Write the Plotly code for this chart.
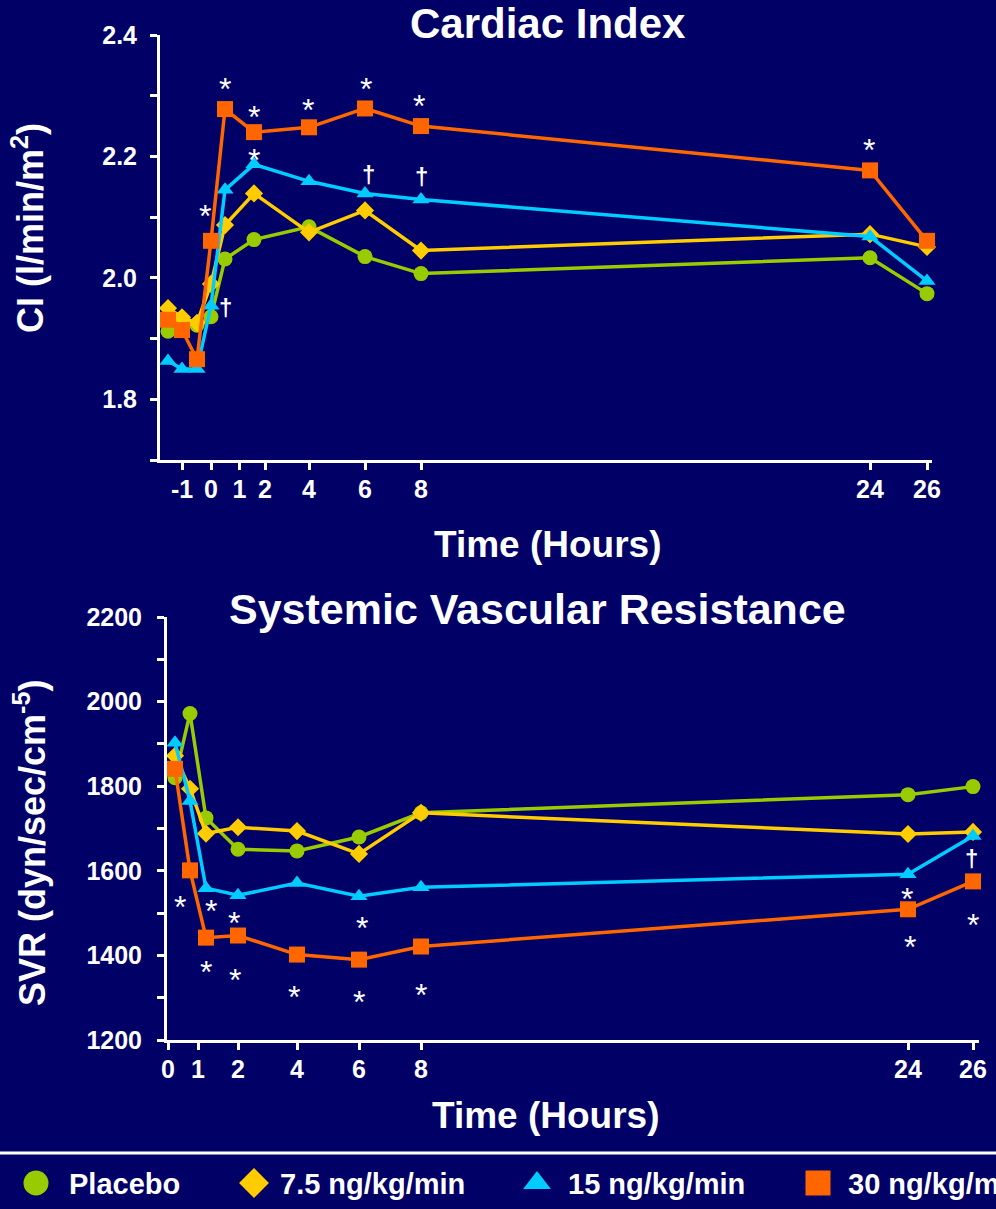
import numpy as np
import plotly.graph_objects as go

# ---------------- data ----------------
series_names = ["Placebo", "7.5 ng/kg/min", "15 ng/kg/min", "30 ng/kg/min"]

ci_hours = [-1.5, -1, -0.5, 0, 0.5, 1.5, 4, 6, 8, 24, 26]
ci_placebo = [1.912, 1.928, 1.922, 1.936, 2.031, 2.063, 2.084, 2.035, 2.007, 2.033, 1.974]
ci_7_5 = [1.950, 1.935, 1.926, 1.990, 2.087, 2.139, 2.075, 2.111, 2.045, 2.072, 2.051]
ci_15 = [1.863, 1.850, 1.850, 1.954, 2.145, 2.187, 2.159, 2.139, 2.129, 2.068, 1.995]
ci_30 = [1.931, 1.914, 1.866, 2.061, 2.278, 2.240, 2.248, 2.279, 2.250, 2.177, 2.061]

svr_hours = [0.25, 0.75, 1.25, 2, 4, 6, 8, 24, 26]
svr_placebo = [1820, 1972, 1725, 1651, 1647, 1680, 1737, 1780, 1799]
svr_7_5 = [1872, 1794, 1688, 1703, 1694, 1640, 1737, 1687, 1692]
svr_15 = [1903, 1765, 1559, 1542, 1571, 1540, 1561, 1592, 1682]
svr_30 = [1841, 1601, 1442, 1447, 1402, 1390, 1421, 1509, 1575]

ci_tick_hours = [-1, 0, 1, 2, 4, 6, 8, 24, 26]
ci_tick_labels = ["-1", "0", "1", "2", "4", "6", "8", "24", "26"]
svr_tick_hours = [0, 1, 2, 4, 6, 8, 24, 26]
svr_tick_labels = ["0", "1", "2", "4", "6", "8", "24", "26"]

# significance marks: (series index, point index, symbol)
ci_marks = [(3, 3, "*"), (3, 4, "*"), (3, 5, "*"), (3, 6, "*"), (3, 7, "*"),
            (3, 8, "*"), (3, 9, "*"), (2, 5, "*"), (2, 3, "†"), (2, 7, "†"), (2, 8, "†")]
svr_marks = [(3, 1, "*"), (2, 2, "*"), (2, 3, "*"), (2, 5, "*"), (3, 2, "*"), (3, 3, "*"),
             (3, 4, "*"), (3, 5, "*"), (3, 6, "*"), (2, 7, "*"), (3, 7, "*"), (3, 8, "*"), (2, 8, "†")]

# ---------------- styling / layout ----------------
W, H = 996, 1209
BG = "#000066"
FONT = "Arial, 'Liberation Sans', sans-serif"
colors = ["#99cc00", "#ffcc00", "#00ccff", "#ff6600"]
symbols = ["circle", "diamond", "triangle-up", "square"]
msizes = [15, 14, 15, 16]

# broken (non-linear) time scale of the original slide: hours -> horizontal axis units
ci_scale_hours = [-1.5, -1, -0.5, 0, 0.5, 1.5, 4, 6, 8, 24, 26]
ci_scale_units = [168, 182, 197, 211, 225, 254, 309, 365, 421, 870, 927]
svr_scale_hours = [0, 0.25, 0.75, 1.25, 2, 4, 6, 8, 24, 26]
svr_scale_units = [168, 175, 190, 206, 238, 297, 359, 421, 908, 973]


def ci_x(h):
    return [float(v) for v in np.interp(h, ci_scale_hours, ci_scale_units)]


def svr_x(h):
    return [float(v) for v in np.interp(h, svr_scale_hours, svr_scale_units)]


# offsets (px) of the significance marks relative to their point (dx, dy up)
ci_mark_offsets = [(-6, 32), (0, 27), (0, 22), (-1, 24), (1, 26), (-2, 27), (-1, 27),
                   (0, 11), (14, -1), (3, 20), (0, 24)]
svr_mark_offsets = [(-10, -30), (5, -16), (-4, -21), (3, -25), (0, -27), (-3, -37),
                    (-3, -35), (0, -35), (0, -41), (-1, -18), (2, -31), (0, -37), (-2, -21)]

ci_series = [ci_placebo, ci_7_5, ci_15, ci_30]
svr_series = [svr_placebo, svr_7_5, svr_15, svr_30]

fig = go.Figure()

for i in range(4):
    fig.add_trace(go.Scatter(
        x=ci_x(ci_hours), y=ci_series[i], mode="lines+markers", name=series_names[i],
        line=dict(color=colors[i], width=3.5),
        marker=dict(symbol=symbols[i], size=msizes[i], color=colors[i], line=dict(width=0)),
        xaxis="x", yaxis="y", showlegend=False, cliponaxis=False))
for i in range(4):
    fig.add_trace(go.Scatter(
        x=svr_x(svr_hours), y=svr_series[i], mode="lines+markers", name=series_names[i],
        line=dict(color=colors[i], width=3.5),
        marker=dict(symbol=symbols[i], size=msizes[i], color=colors[i], line=dict(width=0)),
        xaxis="x2", yaxis="y2", showlegend=False, cliponaxis=False))

# legend swatches (drawn on a hidden pixel-unit axis pair in the bottom strip)
legend_sw_x = [36, 254, 537, 818]
legend_text_x = [67, 278, 566, 846]
legend_y = 1183
fig.add_trace(go.Scatter(
    x=legend_sw_x, y=[legend_y] * 4, mode="markers",
    marker=dict(symbol=symbols, size=[25, 23, 24, 25], color=colors, opacity=1,
                line=dict(width=0)),
    xaxis="x3", yaxis="y3", showlegend=False, hoverinfo="skip", cliponaxis=False))


def py(p):
    return 1 - p / H


def px(p):
    return p / W


axis_common = dict(showline=True, linecolor="white", linewidth=3, ticks="outside",
                   ticklen=7, tickwidth=3, tickcolor="white", showgrid=False, zeroline=False,
                   tickfont=dict(family=FONT, size=25, color="white", weight="bold"))

fig.update_layout(
    width=W, height=H, margin=dict(l=0, r=0, t=0, b=0, autoexpand=False),
    paper_bgcolor=BG, plot_bgcolor="rgba(0,0,0,0)", showlegend=False,
    font=dict(family=FONT, color="white"),
    xaxis=dict(domain=[px(160), px(932)], range=[160, 932], anchor="y",
               tickmode="array", tickvals=ci_x(ci_tick_hours), ticktext=ci_tick_labels,
               ticklabelstandoff=-2, **axis_common),
    yaxis=dict(domain=[py(460), py(35)], range=[1.7, 2.4], anchor="x",
               tick0=1.8, dtick=0.2, tickformat=".1f", ticklabelstandoff=8,
               minor=dict(dtick=0.1, tick0=1.7, ticks="outside", ticklen=7, tickwidth=3,
                          tickcolor="white", showgrid=False),
               **axis_common),
    xaxis2=dict(domain=[px(167), px(979)], range=[167, 979], anchor="y2",
                tickmode="array", tickvals=svr_x(svr_tick_hours), ticktext=svr_tick_labels,
                ticklabelstandoff=-2, **axis_common),
    yaxis2=dict(domain=[py(1040), py(617)], range=[1200, 2200], anchor="x2",
                tick0=1200, dtick=200, ticklabelstandoff=10,
                minor=dict(dtick=100, tick0=1200, ticks="outside", ticklen=7, tickwidth=3,
                           tickcolor="white", showgrid=False),
                **axis_common),
    xaxis3=dict(domain=[0, 1], range=[0, W], visible=False, fixedrange=True, anchor="y3"),
    yaxis3=dict(domain=[0, py(1160)], range=[H, 1160], visible=False, fixedrange=True,
                anchor="x3"),
)

# separator line above the legend
fig.add_shape(type="line", xref="paper", yref="paper", x0=0, x1=1, y0=py(1153), y1=py(1153),
              line=dict(color="white", width=3))


def ann(text, x, y, size, angle=0, xanchor="center"):
    fig.add_annotation(text=text, x=px(x), y=py(y), xref="paper", yref="paper",
                       showarrow=False, textangle=angle, xanchor=xanchor, yanchor="middle",
                       font=dict(family=FONT, size=size, color="white", weight="bold"))


ann("Cardiac Index", 548, 24, 42)
ann("Systemic Vascular Resistance", 537, 609, 43)
ann("Time (Hours)", 548, 544, 37)
ann("Time (Hours)", 546, 1115, 37)
ann("CI (l/min/m<sup>2</sup>)", 28, 228, 36, angle=-90)
ann("SVR (dyn/sec/cm<sup>-5</sup>)", 30, 843, 36, angle=-90)
for name, tx in zip(series_names, legend_text_x):
    ann(name, tx, legend_y + 1, 29, xanchor="left")


def add_marks(marks, offsets, series, hours, xf, xa, ya):
    xs = xf(hours)
    for (si, pi, sym), (dx, dy) in zip(marks, offsets):
        if sym == "*":
            f = dict(family=FONT, size=32, color="white")
            corr = -7
        else:
            f = dict(family=FONT, size=24, color="white", weight="bold")
            corr = -1
        fig.add_annotation(text=sym, x=xs[pi], y=series[si][pi], xref=xa, yref=ya,
                           showarrow=False, xshift=dx, yshift=dy + corr, font=f)


add_marks(ci_marks, ci_mark_offsets, ci_series, ci_hours, ci_x, "x", "y")
add_marks(svr_marks, svr_mark_offsets, svr_series, svr_hours, svr_x, "x2", "y2")

fig.write_html("out.html")
